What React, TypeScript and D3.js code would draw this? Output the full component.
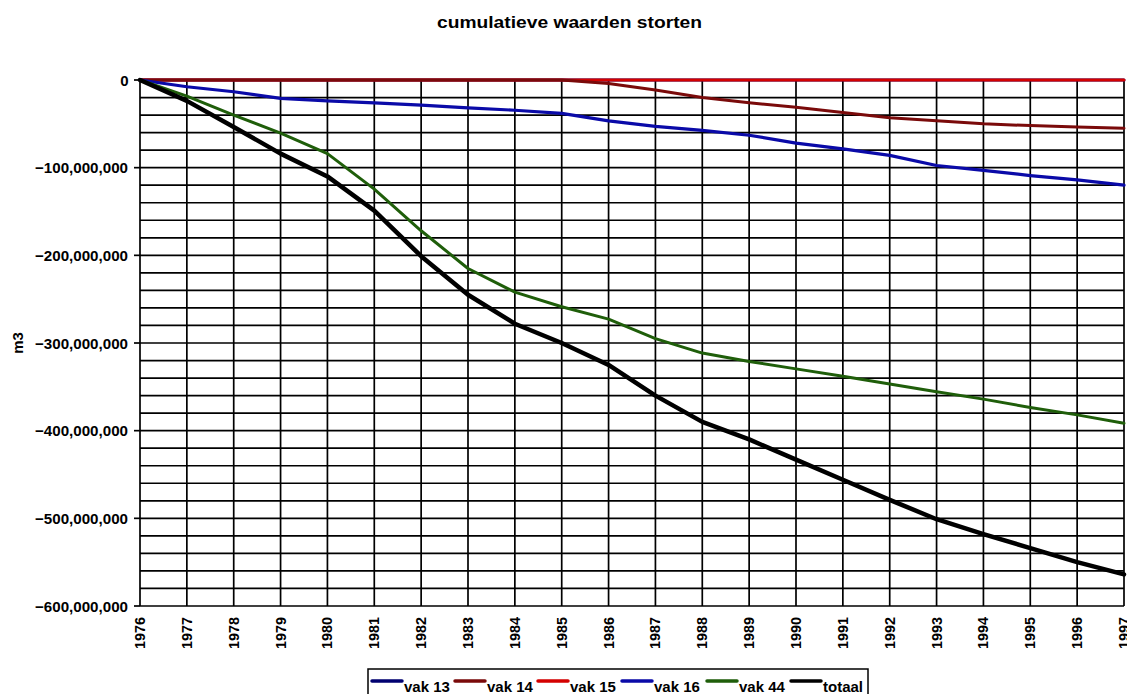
import React from "react";
import * as d3 from "d3";

const years = [1976,1977,1978,1979,1980,1981,1982,1983,1984,1985,1986,1987,1988,1989,1990,1991,1992,1993,1994,1995,1996,1997];
const vak13 = [0,0,0,0,0,0,0,0,0,0,0,0,0,0,0,0,0,0,0,0,0,0];
const vak14 = [0,0,0,0,0,0,0,0,0,0,-4e6,-11.5e6,-20e6,-26e6,-31e6,-37e6,-43e6,-46.5e6,-50e6,-52e6,-53.5e6,-55e6];
const vak15 = [0,0,0,0,0,0,0,0,0,0,0,0,0,0,0,0,0,0,0,0,0,0];
const vak16 = [0,-7.7e6,-13.4e6,-21e6,-23.8e6,-26e6,-28.7e6,-31.8e6,-34.5e6,-38e6,-46.7e6,-53e6,-57.5e6,-63e6,-72e6,-78.5e6,-86e6,-97.5e6,-103e6,-109e6,-114e6,-120e6];
const vak44 = [0,-18.4e6,-40e6,-60.5e6,-84e6,-124.5e6,-172e6,-215e6,-242e6,-258.6e6,-272.8e6,-295e6,-311.5e6,-321e6,-329.5e6,-338e6,-346.7e6,-355.5e6,-364e6,-373.6e6,-382e6,-391.6e6];
const totaal = [0,-23.8e6,-53.6e6,-84e6,-110e6,-149e6,-201e6,-245e6,-278e6,-300e6,-325e6,-360e6,-390e6,-410e6,-433e6,-456e6,-479e6,-501e6,-518e6,-534e6,-550e6,-564e6];
const yTicks = [0,-100e6,-200e6,-300e6,-400e6,-500e6,-600e6];
const gridVals = d3.range(0, -600e6 - 1, -20e6);

const seriesNames = ["vak 13","vak 14","vak 15","vak 16","vak 44","totaal"];
const seriesData = [vak13, vak14, vak15, vak16, vak44, totaal];
const seriesColors = ["#000070","#7a0a0a","#d40000","#0a0aa8","#1f5e0a","#000000"];
const seriesWidths = [3,3,3,3.2,3,4.5];
const drawOrder = [0,2,1,3,4,5];

export default function App() {
  const W = 1127, H = 694;
  const x = d3.scaleLinear().domain([1976, 1997]).range([140, 1124]);
  const y = d3.scaleLinear().domain([0, -600e6]).range([80, 606]);
  const fmt = d3.format(",");
  const line = d3.line<number>().x((_, i) => x(years[i])).y(d => y(d));
  const font = "'Liberation Sans', Arial, sans-serif";
  const legendX = [372, 455, 538, 622, 707, 791];
  return (
    <svg width={W} height={H} style={{ position: "absolute", left: 0, top: 0, background: "#fff" }} fontFamily={font}>
      <rect x={0} y={0} width={W} height={H} fill="#fff" />
      <text x={437} y={28} fontSize={16.5} fontWeight="bold" textLength={265} lengthAdjust="spacingAndGlyphs">cumulatieve waarden storten</text>
      {gridVals.map(v => (
        <line key={"h" + v} x1={140} x2={1124} y1={y(v)} y2={y(v)} stroke="#000" strokeWidth={1.7} />
      ))}
      {years.map(yr => (
        <line key={"v" + yr} x1={x(yr)} x2={x(yr)} y1={80} y2={606} stroke="#000" strokeWidth={1.7} />
      ))}
      {yTicks.map(v => (
        <g key={"t" + v}>
          <line x1={134} x2={140} y1={y(v)} y2={y(v)} stroke="#000" strokeWidth={1.7} />
          {v === 0 ? (
            <text x={128.5} y={y(v) + 5.5} textAnchor="end" fontSize={15} fontWeight="bold">{fmt(v)}</text>
          ) : (
            <text x={35} y={y(v) + 5.5} fontSize={15} fontWeight="bold" textLength={93} lengthAdjust="spacingAndGlyphs">{fmt(v)}</text>
          )}
        </g>
      ))}
      {years.map(yr => (
        <text key={"xl" + yr} transform={`translate(${x(yr) + 5},${617}) rotate(-90)`} x={-32} fontSize={15} fontWeight="bold" textLength={32} lengthAdjust="spacingAndGlyphs">{yr}</text>
      ))}
      <text transform="translate(23,343) rotate(-90)" textAnchor="middle" fontSize={15} fontWeight="bold">m3</text>
      {drawOrder.map(i => (
        <path key={"s" + i} d={line(seriesData[i]) || ""} fill="none" stroke={seriesColors[i]} strokeWidth={seriesWidths[i]} strokeLinejoin="round" strokeLinecap="round" />
      ))}
      <rect x={368} y={669} width={500} height={30} fill="#fff" stroke="#000" strokeWidth={1.5} />
      {seriesNames.map((n, i) => (
        <g key={"lg" + i}>
          <line x1={legendX[i]} x2={legendX[i] + 30} y1={681} y2={681} stroke={seriesColors[i]} strokeWidth={3.5} strokeLinecap="round" />
          <text x={legendX[i] + 32} y={692} fontSize={15} fontWeight="bold">{n}</text>
        </g>
      ))}
    </svg>
  );
}
